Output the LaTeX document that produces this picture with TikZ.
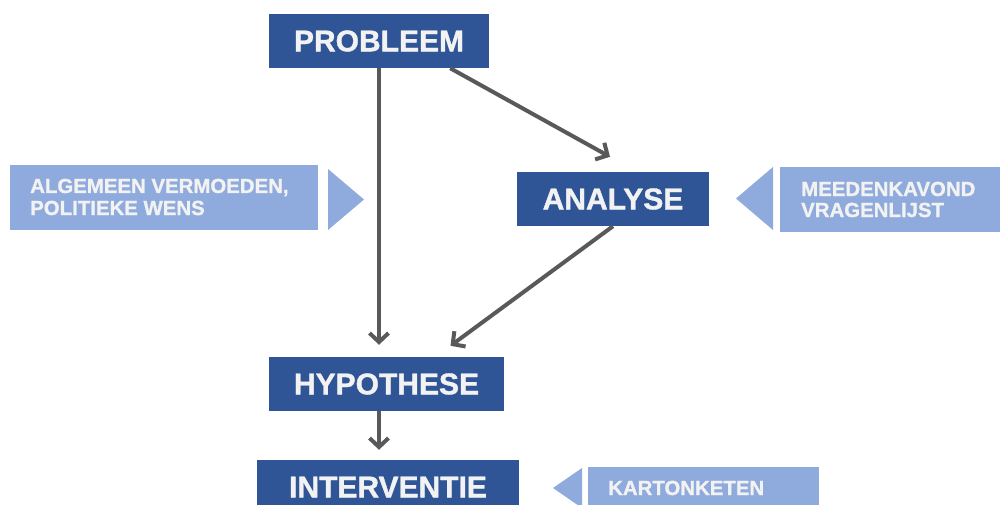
\documentclass[tikz,border=0pt]{standalone}
\usepackage{fontspec}
\setmainfont{Liberation Sans}
\newfontfamily\heavyfont{Liberation Sans Bold}[FakeBold=1.2]
\usetikzlibrary{arrows.meta}
\definecolor{darkb}{HTML}{2F5597}
\definecolor{lightb}{HTML}{8FAADC}
\definecolor{txtc}{HTML}{F2F2F2}
\definecolor{arrc}{HTML}{595959}
\begin{document}
\begin{tikzpicture}[x=1pt,y=-1pt,
  mainbox/.style={fill=darkb, text=txtc, font=\heavyfont\fontsize{30}{36}\selectfont, inner sep=0pt, anchor=center},
  callbox/.style={fill=lightb, inner sep=0pt, anchor=center},
  calltxt/.style={text=txtc, font=\heavyfont\fontsize{20.4}{24}\selectfont, inner sep=0pt, anchor=base west},
  arr/.style={draw=arrc, line width=4pt, -{Straight Barb[length=9pt,width=19pt]}}]
\useasboundingbox (0,0) rectangle (1000,505);
% main boxes
\node[mainbox, minimum width=220pt, minimum height=54pt] (prob) at (379,41) {PROBLEEM};
\node[mainbox, minimum width=192pt, minimum height=54pt] (ana) at (613,199) {ANALYSE};
\node[mainbox, minimum width=235pt, minimum height=54pt] (hyp) at (386.5,384) {HYPOTHESE};
\node[mainbox, minimum width=262pt, minimum height=54pt] (int) at (388,487) {INTERVENTIE};
% callouts
\node[callbox, minimum width=308pt, minimum height=65pt] (lbox) at (164,197.5) {};
\fill[lightb] (328,169) -- (364,199.5) -- (328,230) -- cycle;
\node[calltxt] (l1) at (30,193) {ALGEMEEN VERMOEDEN,};
\node[calltxt] (l2) at (30,215) {POLITIEKE WENS};
\node[callbox, minimum width=220pt, minimum height=65pt] (rbox) at (890,199.5) {};
\fill[lightb] (773,167) -- (736,198.5) -- (773,230) -- cycle;
\node[calltxt] (r1) at (801,196) {MEEDENKAVOND};
\node[calltxt] (r2) at (801,217) {VRAGENLIJST};
\node[callbox, minimum width=231pt, minimum height=43pt] (kbox) at (703.5,488.5) {};
\fill[lightb] (582,468) -- (553,488) -- (582,508) -- cycle;
\node[calltxt] (k1) at (608,495) {KARTONKETEN};
% arrows
\draw[arr, shorten >=12pt] (prob.south) -- (prob.south |- hyp.north);
\draw[arr] ([xshift=-39pt]prob.south east) -- ([xshift=-3pt,yshift=15pt]ana.north);
\draw[arr] (ana.south) -- ([xshift=64pt,yshift=11pt]hyp.north);
\draw[arr, shorten >=10pt] (prob.south |- hyp.south) -- (prob.south |- int.north);
\end{tikzpicture}
\end{document}
